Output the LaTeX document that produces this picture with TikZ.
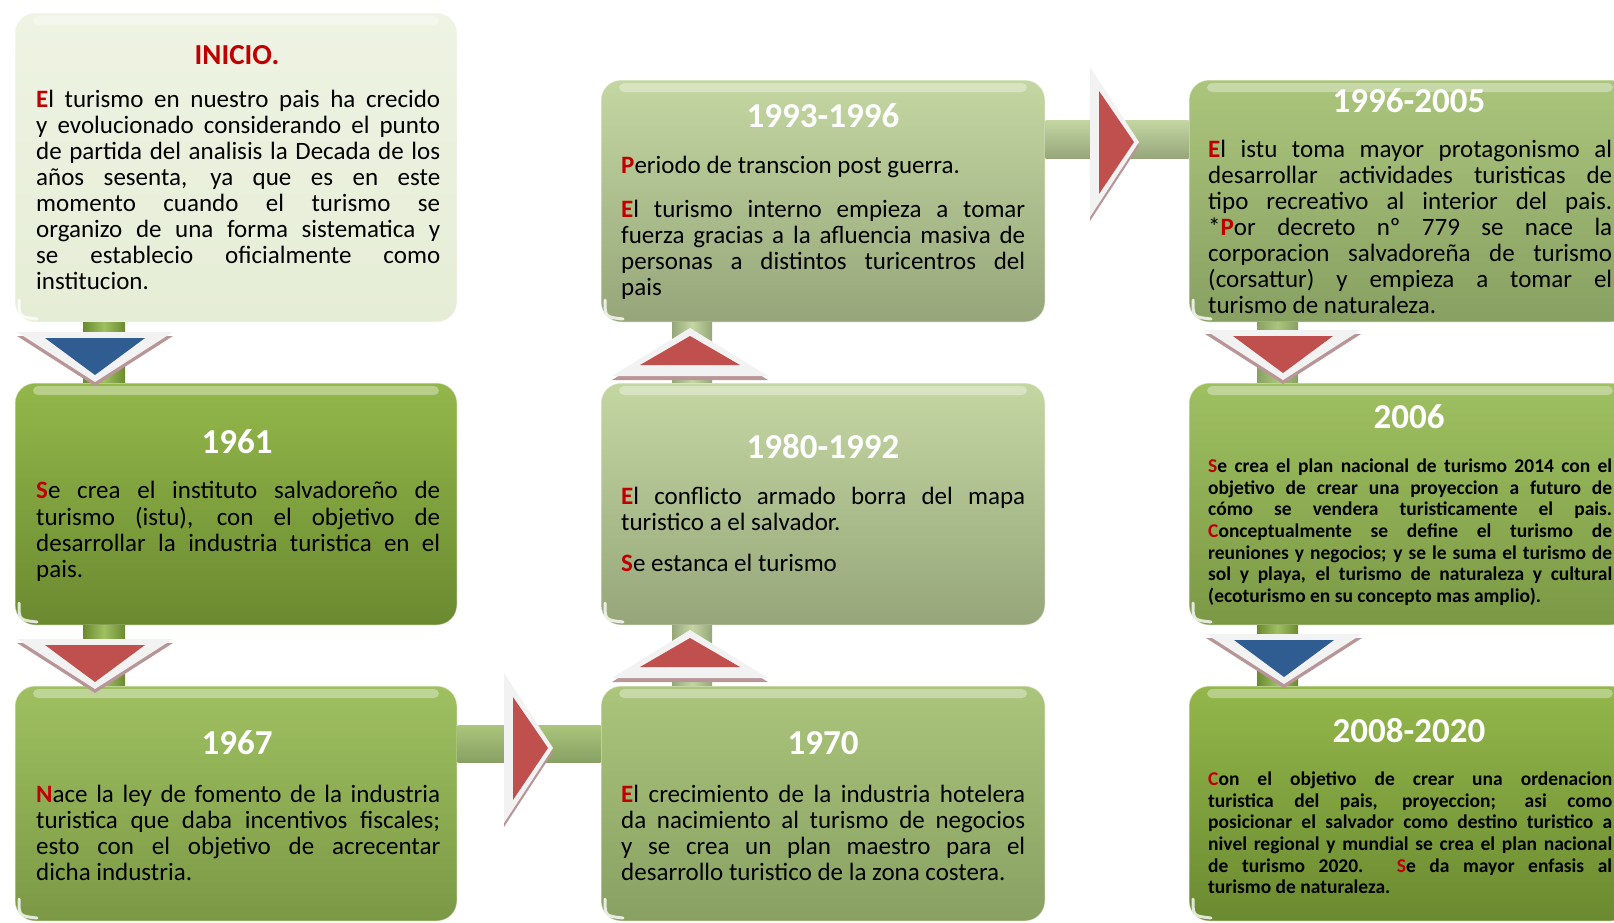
\documentclass[tikz,border=0pt]{standalone}
\usepackage{fontspec}
\setmainfont{Carlito}
\usepackage{tikz}

\definecolor{rojo}{HTML}{C00000}
\definecolor{flechaRoja}{HTML}{C0504D}
\definecolor{flechaAzul}{HTML}{2F5C91}
\definecolor{blanco}{HTML}{F2F2F2}
\definecolor{sombra}{HTML}{B89597}
\definecolor{crema1}{HTML}{EEF3E3}
\definecolor{crema2}{HTML}{E6EDD6}
\definecolor{verdeA1}{HTML}{93B74B}
\definecolor{verdeA2}{HTML}{6B8A30}
\definecolor{verdeB1}{HTML}{9FC061}
\definecolor{verdeB2}{HTML}{7B9945}
\definecolor{verdeC1}{HTML}{ABC57C}
\definecolor{verdeC2}{HTML}{88A062}
\definecolor{verdeD1}{HTML}{C4D7A2}
\definecolor{verdeD2}{HTML}{96A67A}

\setlength\parindent{0pt}
\tolerance=10000
\hbadness=10000

\newcommand\ini[1]{{\color{rojo}\bfseries #1}}

\tikzset{
  caja/.style 2 args={rounded corners=20pt, inner sep=0pt, minimum width=442pt,
    top color=#1, bottom color=#2, draw=white, draw opacity=.5, line width=1pt,
    path picture={
      \fill[white, opacity=.35, rounded corners=5pt]
        ([xshift=18pt,yshift=-3pt]path picture bounding box.north west) rectangle
        ([xshift=-18pt,yshift=-12pt]path picture bounding box.north east);
      \draw[white, opacity=.8, line width=3pt, line cap=round, sharp corners]
        ([xshift=4pt,yshift=22pt]path picture bounding box.south west) .. controls
        ([xshift=4pt,yshift=5pt]path picture bounding box.south west) ..
        ([xshift=22pt,yshift=3pt]path picture bounding box.south west);
    }},
  titulo/.style={inner sep=0pt, text=white, font=\fontsize{35}{40}\selectfont\bfseries},
  texto/.style={anchor=north west, inner sep=0pt, text width=404pt, align=justify,
    font=\fontsize{25}{26}\selectfont},
  chico/.style={texto, font=\fontsize{19.5}{21.7}\selectfont\bfseries},
  tallo/.style 2 args={left color=#1, right color=#1, middle color=#2},
  barra/.style 2 args={top color=#2, bottom color=#1},
  pics/bajada/.style={code={
    \fill[sombra] (-78,-21) -- (78,-21) -- (0,29) -- cycle;
    \fill[blanco] (-78,-25) -- (78,-25) -- (0,25) -- cycle;
    \fill[#1] (-50,-19) -- (50,-19) -- (0,18) -- cycle;
  }},
  pics/subida/.style={code={
    \fill[sombra] (-78,29) -- (78,29) -- (0,-19) -- cycle;
    \fill[blanco] (-78,25) -- (78,25) -- (0,-23) -- cycle;
    \fill[#1] (-50,14) -- (50,14) -- (0,-15) -- cycle;
  }},
  pics/avance/.style={code={
    \fill[sombra] (-24,-71) -- (-24,79) -- (25,4) -- cycle;
    \fill[blanco] (-24,-75) -- (-24,75) -- (25,0) -- cycle;
    \fill[#1] (-15,-51) -- (-15,52) -- (20,0) -- cycle;
  }}
}

\begin{document}
\begin{tikzpicture}[x=1pt, y=-1pt]
  \useasboundingbox (0,0) rectangle (1614,922);
  \clip (0,0) rectangle (1614,922);

  % cajas
  \node[caja={crema1}{crema2}, minimum height=309pt] (inicio) at (236,167.5) {};
  \node[caja={verdeA1}{verdeA2}, minimum height=242pt] (istu) at (236,504) {};
  \node[caja={verdeB1}{verdeB2}, minimum height=235pt] (ley) at (236,803.5) {};
  \node[caja={verdeD1}{verdeD2}, minimum width=444pt, minimum height=242pt] (posguerra) at (823,201) {};
  \node[caja={verdeD1}{verdeD2}, minimum width=444pt, minimum height=242pt] (conflicto) at (823,504) {};
  \node[caja={verdeC1}{verdeC2}, minimum width=444pt, minimum height=235pt] (hotel) at (823,803.5) {};
  \node[caja={verdeC1}{verdeC2}, minimum height=242pt] (corsattur) at (1410,201) {};
  \node[caja={verdeB1}{verdeB2}, minimum height=242pt] (plan) at (1410,504) {};
  \node[caja={verdeA1}{verdeA2}, minimum height=235pt] (ordena) at (1410,803.5) {};

  % uniones
  \path[tallo={verdeA2}{verdeB1}] ([xshift=-153pt]inicio.south) rectangle ([xshift=-111pt]istu.north);
  \path[tallo={verdeA2}{verdeB1}] ([xshift=-153pt]istu.south) rectangle ([xshift=-111pt]ley.north);
  \path[tallo={verdeD2}{verdeD1}] ([xshift=-151pt]conflicto.south) rectangle ([xshift=-111pt]hotel.north);
  \path[tallo={verdeD2}{verdeD1}] ([xshift=-151pt]posguerra.south) rectangle ([xshift=-111pt]conflicto.north);
  \path[tallo={verdeC2}{verdeC1}] ([xshift=-153pt]corsattur.south) rectangle ([xshift=-112pt]plan.north);
  \path[tallo={verdeA2}{verdeB1}] ([xshift=-153pt]plan.south) rectangle ([xshift=-112pt]ordena.north);
  \path[barra={verdeC2}{verdeC1}] ([yshift=78.5pt]ley.east) rectangle ([yshift=41.5pt]hotel.west);
  \path[barra={verdeD2}{verdeD1}] ([yshift=81pt]posguerra.east) rectangle ([yshift=43pt]corsattur.west);

  % flechas
  \pic at (95,357) {bajada=flechaAzul};
  \pic at (95,664) {bajada=flechaRoja};
  \pic at (690,351) {subida=flechaRoja};
  \pic at (690,653) {subida=flechaRoja};
  \pic at (1283,355) {bajada=flechaRoja};
  \pic at (1284,659) {bajada=flechaAzul};
  \pic at (528,748) {avance=flechaRoja};
  \pic at (1114,142) {avance=flechaRoja};

  % titulos
  \node[titulo, text=rojo, font=\fontsize{29}{32}\selectfont\bfseries] (inicio-t) at (237,55) {INICIO.};
  \node[titulo] (istu-t) at (237,442) {1961};
  \node[titulo] (ley-t) at (237,743) {1967};
  \node[titulo] (posguerra-t) at (823,116) {1993-1996};
  \node[titulo] (conflicto-t) at (823,447) {1980-1992};
  \node[titulo] (hotel-t) at (823,743) {1970};
  \node[titulo] (corsattur-t) at (1409,101) {1996-2005};
  \node[titulo] (plan-t) at (1409,417) {2006};
  \node[titulo] (ordena-t) at (1409,731) {2008-2020};

  % textos
  \node[texto] (inicio-x) at (36,89.5) {\strut\ini{E}l turismo en nuestro pais ha crecido\linebreak
    y evolucionado considerando el punto\linebreak
    de partida del analisis la Decada de los\linebreak
    años sesenta, ya que es en este\linebreak
    momento cuando el turismo se\linebreak
    organizo de una forma sistematica y\linebreak
    se establecio oficialmente como\linebreak
    institucion.};
  \node[texto] (istu-x) at (36,480.5) {\strut\ini{S}e crea el instituto salvadoreño de\linebreak
    turismo (istu), con el objetivo de\linebreak
    desarrollar la industria turistica en el\linebreak
    pais.};
  \node[texto] (ley-x) at (36,784.5) {\strut\ini{N}ace la ley de fomento de la industria\linebreak
    turistica que daba incentivos fiscales;\linebreak
    esto con el objetivo de acrecentar\linebreak
    dicha industria.};
  \node[texto] (posguerra-x) at (621,155.5) {\strut\ini{P}eriodo de transcion post guerra.\par\vspace{18pt}
    \strut\ini{E}l turismo interno empieza a tomar\linebreak
    fuerza gracias a la afluencia masiva de\linebreak
    personas a distintos turicentros del\linebreak
    pais};
  \node[texto] (conflicto-x) at (621,486.5) {\strut\ini{E}l conflicto armado borra del mapa\linebreak
    turistico a el salvador.\par\vspace{15pt}
    \strut\ini{S}e estanca el turismo};
  \node[texto] (hotel-x) at (621,784.5) {\strut\ini{E}l crecimiento de la industria hotelera\linebreak
    da nacimiento al turismo de negocios\linebreak
    y se crea un plan maestro para el\linebreak
    desarrollo turistico de la zona costera.};
  \node[texto] (corsattur-x) at (1208,139.5) {\strut\ini{E}l istu toma mayor protagonismo al\linebreak
    desarrollar actividades turisticas de\linebreak
    tipo recreativo al interior del pais.\linebreak
    *\ini{P}or decreto nº 779 se nace la\linebreak
    corporacion salvadoreña de turismo\linebreak
    (corsattur) y empieza a tomar el\linebreak
    turismo de naturaleza.};
  \node[chico] (plan-x) at (1208,457) {\strut\ini{S}e crea el plan nacional de turismo 2014 con el\linebreak
    objetivo de crear una proyeccion a futuro de\linebreak
    cómo se vendera turisticamente el pais.\linebreak
    \ini{C}onceptualmente se define el turismo de\linebreak
    reuniones y negocios; y se le suma el turismo de\linebreak
    sol y playa, el turismo de naturaleza y cultural\linebreak
    (ecoturismo en su concepto mas amplio).};
  \node[chico] (ordena-x) at (1208,770) {\strut\ini{C}on el objetivo de crear una ordenacion\linebreak
    turistica del pais, proyeccion; asi como\linebreak
    posicionar el salvador como destino turistico a\linebreak
    nivel regional y mundial se crea el plan nacional\linebreak
    de turismo 2020. \ini{S}e da mayor enfasis al\linebreak
    turismo de naturaleza.};
\end{tikzpicture}
\end{document}
